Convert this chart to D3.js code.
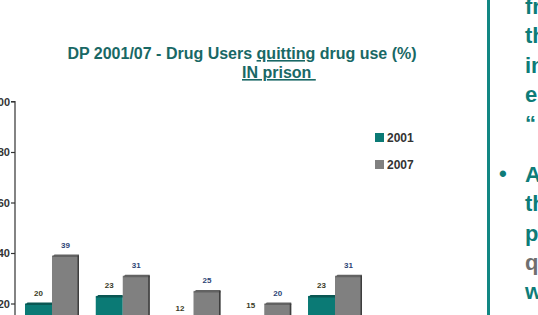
<!DOCTYPE html>
<html>
<head>
<meta charset="utf-8">
<script src="https://cdn.jsdelivr.net/npm/d3@7"></script>
<style>
  body { margin: 0; background: #fff; }
  svg { display: block; font-family: "Liberation Sans", Arial, sans-serif; }
</style>
</head>
<body>
<div id="canvas"></div>
<script>
const width = 538;
const height = 315;

// data
const categories = ['Group 1', 'Group 2', 'Group 3', 'Group 4', 'Group 5'];
const years = ['2001', '2007'];
const values2001 = [20, 23, 12, 15, 23];
const values2007 = [39, 31, 25, 20, 31];
const yTicks = [20, 40, 60, 80, 100];
const sideText1 = ['fr', 'th', 'in', 'e', '\u201C'];
const sideText2 = ['A', 'th', 'p', 'q', 'w'];

const colors = { '2001': '#0b7a75', '2007': '#808080' };
const capColors = { '2001': '#0a5753', '2007': '#626262' };
const labelColors = { '2001': '#3b3b26', '2007': '#2c4475' };
const teal = '#196865';

const svg = d3.select('#canvas').append('svg')
  .attr('width', width)
  .attr('height', height);

const data = categories.map((c, i) => ({ cat: c, values: [
  { year: '2001', value: values2001[i] },
  { year: '2007', value: values2007[i] }
]}));

const yScale = d3.scaleLinear().domain([0, 100]).range([354, 101.5]);
const x0 = d3.scaleBand().domain(categories).range([15, 372])
  .paddingInner(0.237).paddingOuter(0.1413);
const x1 = d3.scaleBand().domain(years).range([0, x0.bandwidth()]);

// title
const title = svg.append('text')
  .attr('x', 242).attr('y', 59)
  .attr('text-anchor', 'middle')
  .attr('font-size', 16).attr('font-weight', 'bold')
  .attr('fill', teal);
title.append('tspan').text('DP 2001/07 - Drug Users ');
title.append('tspan').attr('text-decoration', 'underline').text('quitting');
title.append('tspan').text(' drug use (%)');

svg.append('text')
  .attr('x', 242).attr('y', 78)
  .attr('font-size', 16).attr('font-weight', 'bold')
  .attr('fill', teal)
  .attr('text-decoration', 'underline')
  .text('IN prison\u00A0');

// y axis
const yAxis = d3.axisLeft(yScale).tickValues(yTicks).tickSize(4).tickPadding(1);
const yg = svg.append('g').attr('transform', 'translate(15,0)').call(yAxis);
yg.select('.domain').attr('d', 'M-4,' + yScale(100) + 'H0V' + height * 2).attr('stroke', '#333').attr('stroke-width', 1.2);
yg.selectAll('.tick line').attr('stroke', '#333').attr('stroke-width', 1.2);
yg.selectAll('.tick text')
  .attr('font-family', '"Liberation Sans", Arial, sans-serif')
  .attr('font-size', 11).attr('font-weight', 'bold').attr('fill', '#333');

// bars with a little 3d cap
const depth = 2.5;
const groups = svg.append('g').selectAll('g').data(data).join('g')
  .attr('transform', d => `translate(${x0(d.cat)},0)`);

const bars = groups.selectAll('g').data(d => d.values).join('g');
const bw = x1.bandwidth();

bars.append('rect')
  .attr('x', d => x1(d.year))
  .attr('y', d => yScale(d.value))
  .attr('width', bw)
  .attr('height', d => yScale(0) - yScale(d.value))
  .attr('fill', d => colors[d.year]);

bars.append('path')
  .attr('d', d => {
    const x = x1(d.year), t = yScale(d.value) + 1.5;
    return `M${x},${t}L${x + depth},${t - depth}H${x + bw}L${x + bw},${t}Z`;
  })
  .attr('fill', d => capColors[d.year]);

bars.filter(d => d.year === '2007').append('rect')
  .attr('x', d => x1(d.year) + bw - 1.5)
  .attr('y', d => yScale(d.value))
  .attr('width', 1.5)
  .attr('height', d => yScale(0) - yScale(d.value))
  .attr('fill', '#3d3d3d');

bars.append('text')
  .attr('x', d => x1(d.year) + bw / 2)
  .attr('y', d => Math.min(yScale(d.value) - 8, 311))
  .attr('text-anchor', 'middle')
  .attr('font-size', 8).attr('font-weight', 'bold')
  .attr('fill', d => labelColors[d.year])
  .text(d => d.value);

// legend
const legend = svg.append('g').selectAll('g').data(years).join('g')
  .attr('transform', (d, i) => `translate(375,${133 + i * 27})`);
legend.append('rect').attr('width', 9).attr('height', 9).attr('fill', d => colors[d]);
legend.append('text')
  .attr('x', 12).attr('y', 9)
  .attr('font-size', 12).attr('font-weight', 'bold').attr('fill', '#333')
  .text(d => d);

// right side of the slide
svg.append('rect').attr('x', 487).attr('y', 0).attr('width', 3).attr('height', height).attr('fill', '#128783');

const side = svg.append('g')
  .attr('font-size', 22).attr('font-weight', 'bold').attr('fill', '#0e7c78');
side.selectAll('.p1').data(sideText1).join('text')
  .attr('class', 'p1')
  .attr('x', 525).attr('y', (d, i) => 14 + i * 29.3)
  .text(d => d);
side.append('text').attr('x', 499).attr('y', 181).text('\u2022');
side.selectAll('.p2').data(sideText2).join('text')
  .attr('class', 'p2')
  .attr('x', 525).attr('y', (d, i) => 182 + i * 29.3)
  .attr('fill', d => d === 'q' ? '#6f6f6f' : null)
  .text(d => d);
</script>
</body>
</html>
